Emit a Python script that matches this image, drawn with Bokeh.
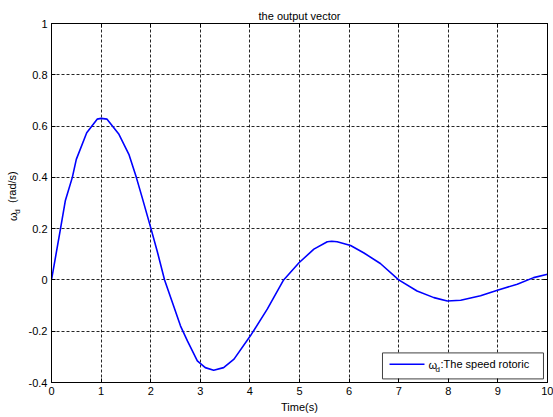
import math
from bokeh.plotting import figure
from bokeh.layouts import row
from bokeh.models import LinearAxis, FixedTicker, Range1d
from bokeh.core.properties import value
from bokeh.embed import file_html
from bokeh.resources import INLINE

# ---- data ----
time_s = [0, 0.18, 0.28, 0.42, 0.50, 0.71, 0.92, 1.0, 1.12, 1.36, 1.56, 1.71, 1.83,
          2.0, 2.13, 2.28, 2.45, 2.60, 2.74, 2.94, 3.10, 3.27, 3.47, 3.68, 4.01,
          4.35, 4.68, 4.99, 5.29, 5.56, 5.65, 5.76, 6.03, 6.30, 6.63, 7.0, 7.37,
          7.71, 7.98, 8.25, 8.65, 8.99, 9.39, 9.72, 10.0]
omega_d = [0, 0.198, 0.31, 0.40, 0.47, 0.574, 0.627, 0.63, 0.627, 0.568, 0.49, 0.40,
           0.32, 0.204, 0.113, 0.0, -0.095, -0.179, -0.238, -0.316, -0.342, -0.352,
           -0.342, -0.309, -0.218, -0.114, 0.0, 0.067, 0.12, 0.149, 0.151, 0.149,
           0.134, 0.105, 0.064, 0.0, -0.043, -0.069, -0.082, -0.079, -0.062, -0.040,
           -0.017, 0.009, 0.022]
x_ticks = [0, 1, 2, 3, 4, 5, 6, 7, 8, 9, 10]
y_ticks = [-0.4, -0.2, 0, 0.2, 0.4, 0.6, 0.8, 1]
title_text = "the output vector"
x_label = "Time(s)"
y_label_parts = ["ω", "d", "(rad/s)"]
legend_parts = ["ω", "d", ":The speed rotoric"]

FONT = "Liberation Sans"
H = 417

# ---- main plot ----
p = figure(width=529, height=H, output_backend="svg", toolbar_location=None,
           x_range=Range1d(0, 10), y_range=Range1d(-0.4, 1),
           frame_width=496, frame_height=359,
           min_border_left=27, min_border_right=6, min_border_top=23,
           min_border_bottom=35, title=title_text, background_fill_color="white",
           border_fill_color="white")
p.title.align = "center"
p.title.text_font = FONT
p.title.text_font_size = "11px"
p.title.text_font_style = "normal"
p.title.text_color = "black"
p.title.standoff = 4

p.outline_line_color = "black"
p.outline_line_width = 1

for ax in (p.xaxis[0], p.yaxis[0]):
    ax.major_label_text_font = FONT
    ax.major_label_text_font_size = "11px"
    ax.major_label_text_color = "black"
    ax.major_tick_in = 4
    ax.major_tick_out = 0
    ax.minor_tick_in = 0
    ax.minor_tick_out = 0
    ax.axis_line_color = "black"
    ax.major_tick_line_color = "black"
    ax.major_label_standoff = 4

p.xaxis[0].ticker = FixedTicker(ticks=x_ticks)
p.yaxis[0].ticker = FixedTicker(ticks=y_ticks)
p.yaxis[0].major_label_overrides = {v: ("%g" % v) for v in y_ticks}
p.xaxis[0].axis_label = x_label
p.xaxis[0].axis_label_text_font = FONT
p.xaxis[0].axis_label_text_font_size = "11px"
p.xaxis[0].axis_label_text_font_style = "normal"
p.xaxis[0].axis_label_text_color = "black"
p.xaxis[0].axis_label_standoff = 3

for loc, tk in (("above", x_ticks), ("right", y_ticks)):
    ax = LinearAxis(ticker=FixedTicker(ticks=tk))
    ax.major_label_text_color = None
    ax.major_label_text_alpha = 0
    ax.major_label_text_font_size = "1px"
    ax.major_label_standoff = 0
    ax.major_tick_in = 4
    ax.major_tick_out = 0
    ax.minor_tick_in = 0
    ax.minor_tick_out = 0
    ax.axis_line_color = "black"
    ax.major_tick_line_color = "black"
    p.add_layout(ax, loc)

p.xgrid.ticker = FixedTicker(ticks=x_ticks)
p.ygrid.ticker = FixedTicker(ticks=y_ticks)
for g in (p.xgrid[0], p.ygrid[0]):
    g.grid_line_color = "black"
    g.grid_line_dash = "3 2"
    g.grid_line_width = 1
    g.grid_line_alpha = 0.85

p.line(time_s, omega_d, line_color="#0000ff", line_width=1.6)

# legend drawn by hand (label has a subscript)
p.quad(left=[6.673], right=[9.919], top=[-0.2846], bottom=[-0.386],
       fill_color="white", line_color="#404040", line_width=1)
p.line([6.815, 7.52], [-0.329, -0.329], line_color="#0000ff", line_width=1.6)
p.text(x=[7.60, 7.742, 7.843], y=[-0.333, -0.350, -0.329], text=legend_parts,
       text_font=value(FONT), text_font_size=["11px", "8px", "11px"],
       text_baseline="middle", text_align="left", text_color="black")

# ---- narrow strip holding the rotated y-axis label ----
lab = figure(width=24, height=H, output_backend="svg", toolbar_location=None,
             x_range=Range1d(0, 24), y_range=Range1d(0, H),
             min_border=0, border_fill_color="white", background_fill_color="white")
lab.axis.visible = False
lab.grid.visible = False
lab.outline_line_color = None
lab.text(x=[12, 16.5, 11], y=[H - 229.5, H - 221.0, H - 208.5], text=y_label_parts,
         angle=math.pi / 2, text_font=value(FONT),
         text_font_size=["11px", "8px", "11px"],
         text_baseline="middle", text_align="left", text_color="black")

layout = row(lab, p, spacing=0)
open("out.html", "w").write(file_html(layout, INLINE))
